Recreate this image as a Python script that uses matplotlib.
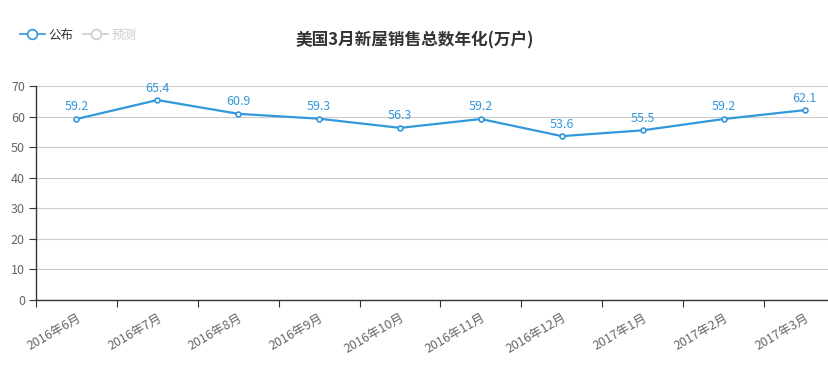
import matplotlib
matplotlib.use("Agg")
import matplotlib.pyplot as plt
from matplotlib.lines import Line2D

plt.rcParams['font.family'] = ['Noto Sans CJK SC', 'DejaVu Sans']

months = ['2016年6月', '2016年7月', '2016年8月', '2016年9月', '2016年10月',
          '2016年11月', '2016年12月', '2017年1月', '2017年2月', '2017年3月']
published = [59.2, 65.4, 60.9, 59.3, 56.3, 59.2, 53.6, 55.5, 59.2, 62.1]
forecast = []

blue = '#3398DB'
gray = '#666666'

fig = plt.figure(figsize=(8.29, 3.74), dpi=100)
# the plot area runs a little past the right edge of the canvas
ax = fig.add_axes([36 / 829, 1 - 300 / 374, 809 / 829, 214 / 374])

x = list(range(len(months)))
ax.plot(x, published, color=blue, lw=1.6, marker='o', ms=3.5,
        mfc='white', mec=blue, mew=1.2, zorder=3, clip_on=False)
for xi, v in zip(x, published):
    ax.annotate(f'{v}', (xi, v), xytext=(0, 4), textcoords='offset points',
                ha='center', va='bottom', color=blue, fontsize=9)

ax.set_xlim(-0.5, len(months) - 0.5)
ax.set_ylim(0, 70)
ax.set_yticks(range(0, 71, 10))
ax.grid(axis='y', color='#cccccc', lw=0.8)
ax.set_axisbelow(True)

# ticks on category boundaries, labels on category centres
ax.set_xticks([i - 0.5 for i in range(len(months) + 1)])
ax.set_xticklabels([])
ax.set_xticks(x, minor=True)
ax.set_xticklabels(months, minor=True, rotation=30, ha='right',
                   rotation_mode='anchor', color=gray, fontsize=9)
ax.tick_params(axis='x', which='major', length=5, color='#333333')
ax.tick_params(axis='x', which='minor', length=0, pad=8)
ax.tick_params(axis='y', length=5, color='#333333', labelcolor=gray,
               labelsize=9, pad=3)

for s in ['top', 'right']:
    ax.spines[s].set_visible(False)
for s in ['left', 'bottom']:
    ax.spines[s].set_color('#333333')
    ax.spines[s].set_linewidth(1.0)

fig.text(0.5, 1 - 40 / 374, '美国3月新屋销售总数年化(万户)', ha='center',
         va='center', fontsize=12, fontweight='bold', color='#333333')

handles = [Line2D([], [], color=blue, lw=1.2, marker='o', ms=7, mfc='white',
                  mec=blue, mew=1.2),
           Line2D([], [], color='#cccccc', lw=1.2, marker='o', ms=7,
                  mfc='white', mec='#cccccc', mew=1.2)]
leg = fig.legend(handles, ['公布', '预测'], loc='center left',
                 bbox_to_anchor=(0.01, 1 - 35 / 374), ncol=2, frameon=False,
                 fontsize=9, handlelength=2.0, handletextpad=0.3,
                 columnspacing=0.8)
leg.get_texts()[0].set_color('#333333')
leg.get_texts()[1].set_color('#cccccc')

fig.savefig('out.png', dpi=100)
